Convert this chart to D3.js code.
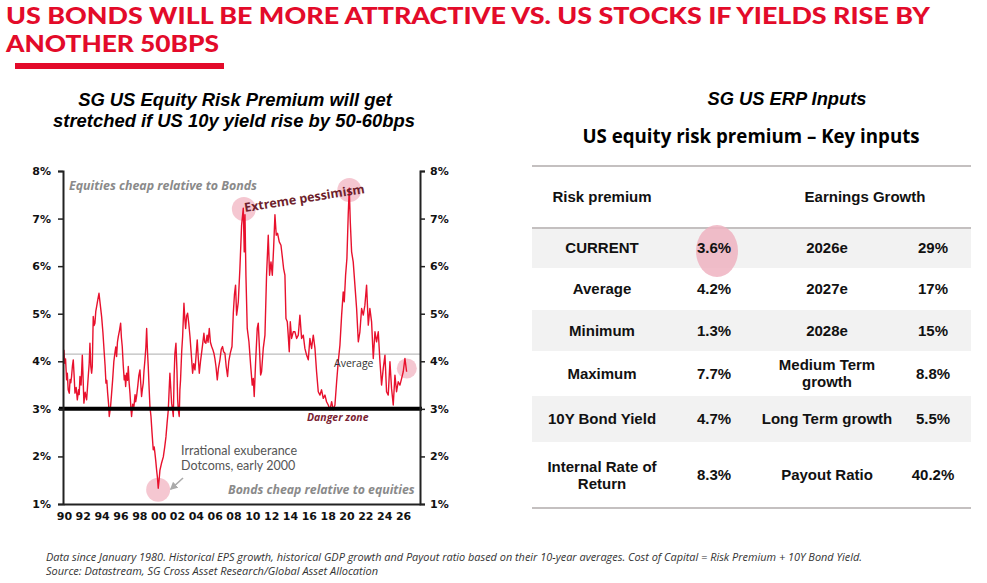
<!DOCTYPE html>
<html>
<head>
<meta charset="utf-8">
<script src="https://cdn.jsdelivr.net/npm/d3@7"></script>
<style>
  body { margin: 0; background: #fff; }
  svg { display: block; }
</style>
</head>
<body>
<div id="chart"></div>
<script>
// US equity risk premium, % (decimal year, value)
const erpSeries = [
  [1990.00,4.24],[1990.08,3.96],[1990.17,4.05],[1990.28,3.61],[1990.36,3.75],[1990.45,3.40],
  [1990.57,3.33],[1990.65,3.62],[1990.73,3.55],[1990.81,3.68],[1990.90,3.90],[1990.99,4.03],
  [1991.08,3.70],[1991.17,3.33],[1991.30,3.45],[1991.42,3.19],[1991.55,3.40],[1991.62,3.30],
  [1991.70,3.68],[1991.82,3.50],[1991.95,4.13],[1992.04,3.60],[1992.12,3.12],[1992.25,3.35],
  [1992.41,3.19],[1992.50,3.45],[1992.58,3.68],[1992.68,3.95],[1992.76,4.38],[1992.85,3.90],
  [1992.94,3.75],[1993.01,3.89],[1993.11,4.94],[1993.20,4.75],[1993.29,4.80],[1993.38,5.05],
  [1993.47,5.15],[1993.60,5.30],[1993.72,5.43],[1993.85,5.20],[1994.00,4.94],[1994.14,4.60],
  [1994.28,4.17],[1994.37,3.90],[1994.46,3.54],[1994.55,3.60],[1994.64,3.33],[1994.74,3.10],
  [1994.81,2.84],[1994.95,3.05],[1995.05,3.30],[1995.17,3.61],[1995.30,4.00],[1995.41,4.17],
  [1995.50,4.30],[1995.59,4.10],[1995.68,4.40],[1995.77,4.52],[1995.90,4.65],[1996.02,4.80],
  [1996.10,4.50],[1996.19,4.31],[1996.30,3.90],[1996.40,3.61],[1996.48,3.70],[1996.55,3.47],
  [1996.65,3.75],[1996.75,3.60],[1996.83,3.89],[1996.92,3.55],[1997.01,3.33],[1997.10,3.05],
  [1997.18,2.84],[1997.30,3.10],[1997.43,3.05],[1997.55,3.30],[1997.62,3.15],[1997.71,3.26],
  [1997.85,3.50],[1997.95,3.70],[1998.07,3.82],[1998.15,3.55],[1998.24,3.26],[1998.32,3.40],
  [1998.42,3.54],[1998.50,3.80],[1998.60,4.03],[1998.70,4.30],[1998.78,4.69],[1998.87,4.20],
  [1998.95,3.89],[1999.05,3.40],[1999.13,3.05],[1999.24,2.84],[1999.35,2.50],[1999.48,2.14],
  [1999.58,2.20],[1999.66,2.07],[1999.75,1.90],[1999.84,1.71],[1999.93,1.55],[2000.01,1.33],
  [2000.10,1.50],[2000.19,1.71],[2000.35,1.85],[2000.55,1.99],[2000.70,2.20],[2000.83,2.41],
  [2000.95,2.70],[2001.08,2.98],[2001.17,3.40],[2001.25,3.75],[2001.35,3.40],[2001.43,3.12],
  [2001.52,3.00],[2001.61,2.84],[2001.70,3.70],[2001.78,4.17],[2001.89,4.38],[2002.00,3.80],
  [2002.07,3.20],[2002.14,2.98],[2002.24,2.84],[2002.31,3.40],[2002.38,3.61],[2002.50,4.20],
  [2002.60,4.52],[2002.74,5.22],[2002.83,4.90],[2002.92,4.69],[2003.02,4.95],[2003.13,5.01],
  [2003.25,4.80],[2003.38,4.52],[2003.50,4.20],[2003.66,3.75],[2003.78,3.95],[2003.91,3.82],
  [2004.02,4.10],[2004.15,4.45],[2004.25,4.10],[2004.37,3.75],[2004.50,4.00],[2004.61,4.17],
  [2004.72,4.35],[2004.86,4.59],[2004.95,4.40],[2005.07,4.38],[2005.20,4.55],[2005.30,4.40],
  [2005.43,4.69],[2005.55,4.40],[2005.68,4.31],[2005.80,4.25],[2005.92,4.17],[2006.03,4.05],
  [2006.14,3.89],[2006.28,3.61],[2006.40,3.85],[2006.56,4.03],[2006.70,4.25],[2006.84,4.31],
  [2006.95,4.20],[2007.09,4.17],[2007.22,3.90],[2007.37,3.68],[2007.50,4.00],[2007.66,4.17],
  [2007.84,4.31],[2007.98,5.01],[2008.10,5.40],[2008.22,5.60],[2008.33,4.97],[2008.42,5.10],
  [2008.51,5.25],[2008.68,5.95],[2008.86,6.86],[2009.04,7.22],[2009.14,6.30],[2009.22,7.08],
  [2009.32,5.81],[2009.46,4.69],[2009.64,4.41],[2009.82,3.92],[2009.99,3.50],[2010.10,3.64],
  [2010.20,3.26],[2010.35,3.99],[2010.52,4.69],[2010.63,4.80],[2010.74,4.34],[2010.88,3.71],
  [2010.98,3.78],[2011.16,4.27],[2011.34,4.55],[2011.51,5.81],[2011.69,6.65],[2011.83,5.81],
  [2011.98,6.09],[2012.12,5.81],[2012.26,6.38],[2012.40,7.08],[2012.54,6.65],[2012.68,6.69],
  [2012.86,6.51],[2013.04,6.44],[2013.18,6.20],[2013.32,5.95],[2013.46,5.81],[2013.57,4.90],
  [2013.71,4.83],[2013.81,4.55],[2013.92,4.20],[2014.03,4.83],[2014.17,4.48],[2014.35,4.62],
  [2014.52,4.62],[2014.70,4.48],[2014.88,4.55],[2015.05,4.97],[2015.23,4.48],[2015.41,4.55],
  [2015.58,4.27],[2015.76,4.13],[2015.94,4.03],[2016.11,4.48],[2016.29,4.27],[2016.47,4.55],
  [2016.65,4.27],[2016.82,3.78],[2017.00,3.36],[2017.18,3.29],[2017.35,3.40],[2017.53,3.22],
  [2017.71,3.29],[2017.88,3.15],[2018.06,3.08],[2018.24,2.98],[2018.42,3.15],[2018.59,2.98],
  [2018.77,3.08],[2018.95,3.57],[2019.12,3.99],[2019.30,4.34],[2019.48,4.97],[2019.65,5.46],
  [2019.76,5.25],[2019.90,5.81],[2020.04,6.16],[2020.18,7.08],[2020.29,7.64],[2020.40,6.93],
  [2020.54,6.30],[2020.71,6.09],[2020.89,5.60],[2021.07,5.11],[2021.25,4.41],[2021.42,4.62],
  [2021.60,5.11],[2021.78,4.97],[2021.95,5.18],[2022.13,5.60],[2022.31,4.76],[2022.48,5.11],
  [2022.66,4.83],[2022.84,4.06],[2023.02,4.62],[2023.19,4.41],[2023.37,4.62],[2023.55,3.99],
  [2023.72,3.50],[2023.90,3.85],[2024.08,4.13],[2024.25,3.36],[2024.43,3.29],[2024.61,3.99],
  [2024.78,3.43],[2024.96,3.08],[2025.14,3.71],[2025.31,3.36],[2025.49,3.57],[2025.67,3.50],
  [2025.85,3.64],[2026.02,3.78],[2026.20,4.06],[2026.38,3.78]
];

const averageErp = 4.15;
const dangerLevel = 3;
const yTicks = [1, 2, 3, 4, 5, 6, 7, 8];
const xTickYears = d3.range(1990, 2027, 2);

// highlighted points: [year, value]
const highlights = [[2009.1, 7.2], [2020.3, 7.6], [2000.0, 1.3], [2026.4, 3.85]];

// table
const tableHeaders = ["Risk premium", "Earnings Growth"];
const rowLabels = ["CURRENT", "Average", "Minimum", "Maximum", "10Y Bond Yield", "Internal Rate of|Return"];
const riskValues = ["3.6%", "4.2%", "1.3%", "7.7%", "4.7%", "8.3%"];
const growthLabels = ["2026e", "2027e", "2028e", "Medium Term|growth", "Long Term growth", "Payout Ratio"];
const growthValues = ["29%", "17%", "15%", "8.8%", "5.5%", "40.2%"];

const W = 987, H = 583;
const red = "#e30b2a";

const svg = d3.select("#chart").append("svg")
  .attr("width", W)
  .attr("height", H);

// ---- headline
const headFont = "Lato, 'Open Sans', sans-serif";
svg.append("text")
  .attr("x", 6).attr("y", 24)
  .attr("textLength", 924).attr("lengthAdjust", "spacingAndGlyphs")
  .style("font-family", headFont).style("font-weight", 900).style("font-size", "22.5px")
  .attr("fill", red)
  .text("US BONDS WILL BE MORE ATTRACTIVE VS. US STOCKS IF YIELDS RISE BY");
svg.append("text")
  .attr("x", 6).attr("y", 51.5)
  .attr("textLength", 213).attr("lengthAdjust", "spacingAndGlyphs")
  .style("font-family", headFont).style("font-weight", 900).style("font-size", "22.5px")
  .attr("fill", red)
  .text("ANOTHER 50BPS");
svg.append("rect")
  .attr("x", 15).attr("y", 63).attr("width", 209).attr("height", 6)
  .attr("fill", red);

// ---- sub titles
const arial = "'Liberation Sans', Arial, sans-serif";
const subTitle = svg.append("text")
  .style("font-family", arial).style("font-weight", "bold").style("font-style", "italic")
  .style("font-size", "18.4px").attr("text-anchor", "middle");
subTitle.append("tspan").attr("x", 235).attr("y", 106).text("SG US Equity Risk Premium will get");
subTitle.append("tspan").attr("x", 234).attr("y", 127).text("stretched if US 10y yield rise by 50-60bps");

svg.append("text")
  .attr("x", 787).attr("y", 105)
  .style("font-family", arial).style("font-weight", "bold").style("font-style", "italic")
  .style("font-size", "18.3px").attr("text-anchor", "middle")
  .text("SG US ERP Inputs");

svg.append("text")
  .attr("x", 751).attr("y", 143)
  .style("font-family", "'Open Sans', sans-serif").style("font-weight", 700)
  .style("font-size", "18.7px").attr("text-anchor", "middle")
  .text("US equity risk premium \u2013 Key inputs");

// ---- chart
const x = d3.scaleLinear().domain([1989.9, 2027.8]).range([63, 420]);
const y = d3.scaleLinear().domain([1, 8]).range([504, 171]);
const axisFont = "'DejaVu Sans', Verdana, sans-serif";

const chart = svg.append("g");

// average line
chart.append("line")
  .attr("x1", x.range()[0]).attr("x2", x.range()[1])
  .attr("y1", y(averageErp)).attr("y2", y(averageErp))
  .attr("stroke", "#bdbdbd").attr("stroke-width", 1.2);

// highlight circles
chart.selectAll("circle.hl")
  .data(highlights)
  .join("circle")
  .attr("class", "hl")
  .attr("cx", d => x(d[0]))
  .attr("cy", d => y(d[1]))
  .attr("r", (d, i) => i === 3 ? 10 : 12)
  .attr("fill", "#f3b9c6")
  .attr("opacity", 0.8);

// series
const line = d3.line()
  .x(d => x(d[0]))
  .y(d => y(d[1]));

chart.append("path")
  .datum(erpSeries)
  .attr("d", line)
  .attr("fill", "none")
  .attr("stroke", "#e8112d")
  .attr("stroke-width", 1.4)
  .attr("stroke-linejoin", "round");

// danger line at 3%
chart.append("line")
  .attr("x1", x.range()[0] - 4).attr("x2", x.range()[1] + 2)
  .attr("y1", y(dangerLevel)).attr("y2", y(dangerLevel))
  .attr("stroke", "#000").attr("stroke-width", 4);

// axes
const yLeft = chart.append("g")
  .attr("transform", `translate(${x.range()[0]},0)`)
  .call(d3.axisLeft(y).tickValues(yTicks).tickFormat(d => d + "%").tickSizeOuter(0).tickSize(5).tickPadding(7));
const yRight = chart.append("g")
  .attr("transform", `translate(${x.range()[1]},0)`)
  .call(d3.axisRight(y).tickValues(yTicks).tickFormat(d => d + "%").tickSizeOuter(0).tickSize(5).tickPadding(5));
const xAxis = chart.append("g")
  .attr("transform", `translate(0,${y.range()[0]})`)
  .call(d3.axisBottom(x).tickValues(xTickYears).tickFormat(d => String(d).slice(2)).tickSizeOuter(0).tickSize(0).tickPadding(8));

[yLeft, yRight, xAxis].forEach(g => {
  g.select(".domain").attr("stroke", "#222").attr("stroke-width", 2);
  g.selectAll(".tick line").attr("stroke", "#222").attr("stroke-width", 1.5);
  g.selectAll("text")
    .style("font-family", axisFont).style("font-weight", "bold").style("font-size", "11px")
    .attr("fill", "#111");
});

// annotations
const note = (tx, ty, txt, opts) => chart.append("text")
  .attr("x", tx).attr("y", ty)
  .style("font-family", opts.font || "'Open Sans', sans-serif")
  .style("font-weight", opts.weight || "normal")
  .style("font-style", opts.style || "normal")
  .style("font-size", opts.size || "12px")
  .attr("fill", opts.fill || "#555")
  .text(txt);

note(69, 190, "Equities cheap relative to Bonds", { weight: 700, style: "italic", fill: "#8a8a8a", size: "12.4px" });
note(228, 494, "Bonds cheap relative to equities", { weight: 700, style: "italic", fill: "#8a8a8a", size: "12.3px" });
note(334, 367, "Average", { fill: "#333", size: "10.5px" });
note(307, 421, "Danger zone", { weight: 700, style: "italic", fill: "#7a2333", size: "10.5px" });
note(181, 455, "Irrational exuberance", { font: "Lato, sans-serif", fill: "#555", size: "12.5px" });
note(181, 470, "Dotcoms, early 2000", { font: "Lato, sans-serif", fill: "#555", size: "12.5px" });

chart.append("text")
  .attr("transform", "translate(245,212) rotate(-9)")
  .style("font-family", "'Open Sans', sans-serif").style("font-weight", 700)
  .style("font-size", "12.5px").attr("fill", "#6e1f2c")
  .text("Extreme pessimism");

// arrow to the dotcom low
chart.append("defs").append("marker")
  .attr("id", "arr")
  .attr("viewBox", "0 0 10 10")
  .attr("refX", 8).attr("refY", 5)
  .attr("markerWidth", 5).attr("markerHeight", 5)
  .attr("orient", "auto")
  .append("path").attr("d", "M0,0 L10,5 L0,10 Z").attr("fill", "#aaa");
chart.append("line")
  .attr("x1", 183).attr("y1", 478)
  .attr("x2", 171).attr("y2", 489)
  .attr("stroke", "#aaa").attr("stroke-width", 1.6)
  .attr("marker-end", "url(#arr)");

// ---- table
const tbl = svg.append("g");
const tLeft = 532, tRight = 971;
const colX = [602, 714, 827, 933];
const rowEdges = [228, 268, 310, 351, 396, 442, 508];

tbl.append("line").attr("x1", tLeft).attr("x2", tRight).attr("y1", 166).attr("y2", 166)
  .attr("stroke", "#c4c0c0").attr("stroke-width", 2);

rowLabels.forEach((lab, i) => {
  if (i % 2 === 0) {
    tbl.append("rect")
      .attr("x", tLeft).attr("y", rowEdges[i])
      .attr("width", tRight - tLeft).attr("height", rowEdges[i + 1] - rowEdges[i])
      .attr("fill", "#f2f2f2");
  }
});

tbl.append("line").attr("x1", tLeft).attr("x2", tRight).attr("y1", 228).attr("y2", 228)
  .attr("stroke", "#c4c0c0").attr("stroke-width", 2);
tbl.append("line").attr("x1", tLeft).attr("x2", tRight).attr("y1", 508).attr("y2", 508)
  .attr("stroke", "#c4c0c0").attr("stroke-width", 2);

// pink marker on current value
tbl.append("ellipse")
  .attr("cx", 717).attr("cy", 251).attr("rx", 21).attr("ry", 26)
  .attr("fill", "#efb3c1").attr("opacity", 0.85);

const cell = (cx, top, bottom, txt) => {
  const parts = txt.split("|");
  const mid = (top + bottom) / 2;
  const t = tbl.append("text")
    .attr("text-anchor", "middle")
    .style("font-family", arial).style("font-weight", "bold").style("font-size", "15px")
    .attr("fill", "#111");
  parts.forEach((p, k) => {
    t.append("tspan")
      .attr("x", cx)
      .attr("y", mid + 5 + (k - (parts.length - 1) / 2) * 17)
      .text(p);
  });
};

cell(602, 166, 228, tableHeaders[0]);
cell(865, 166, 228, tableHeaders[1]);
rowLabels.forEach((lab, i) => {
  const top = rowEdges[i], bottom = rowEdges[i + 1];
  cell(colX[0], top, bottom, lab);
  cell(colX[1], top, bottom, riskValues[i]);
  cell(colX[2], top, bottom, growthLabels[i]);
  cell(colX[3], top, bottom, growthValues[i]);
});

// ---- footnote
const foot = svg.append("text")
  .style("font-family", "'Open Sans', sans-serif").style("font-style", "italic")
  .style("font-size", "11px").attr("fill", "#333");
foot.append("tspan").attr("x", 46).attr("y", 561)
  .attr("textLength", 816).attr("lengthAdjust", "spacingAndGlyphs")
  .text("Data since January 1980. Historical EPS growth, historical GDP growth and Payout ratio based on their 10-year averages. Cost of Capital = Risk Premium + 10Y Bond Yield.");
foot.append("tspan").attr("x", 46).attr("y", 575)
  .attr("textLength", 332).attr("lengthAdjust", "spacingAndGlyphs")
  .text("Source: Datastream, SG Cross Asset Research/Global Asset Allocation");
</script>
</body>
</html>
